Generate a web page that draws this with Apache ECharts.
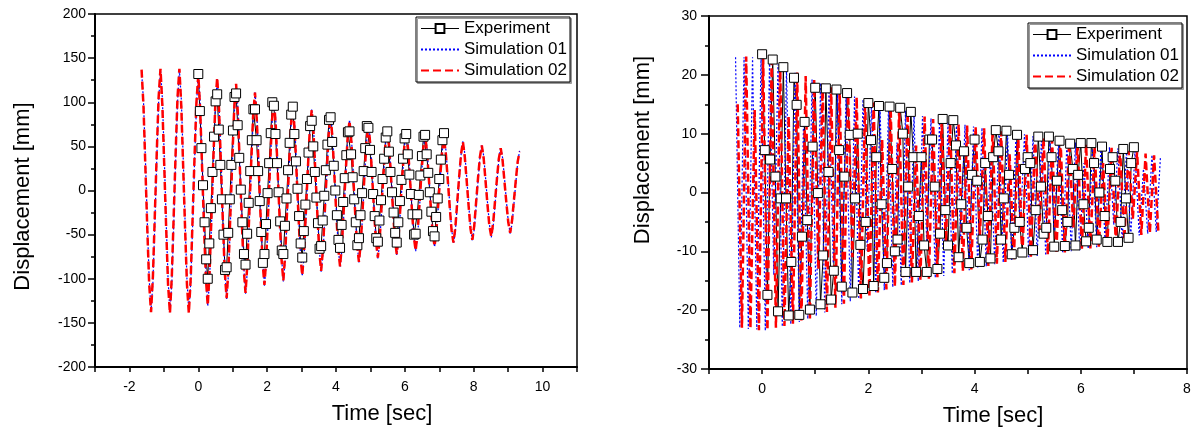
<!DOCTYPE html>
<html>
<head>
<meta charset="utf-8">
<script src="https://cdn.jsdelivr.net/npm/echarts@6/dist/echarts.min.js"></script>
<style>
  html, body { margin: 0; padding: 0; background: #fff; }
  #chart { width: 1197px; height: 428px; }
</style>
</head>
<body>
<div id="chart"></div>
<script>
var FONT = '"Liberation Sans", Arial, sans-serif';

// ---- left panel: time grids (sec) ----
var leftExpStart = 0, leftExpStep = 0.04575;
var leftSimStart = -1.647, leftSimStep = 0.0549;
// experiment displacement [mm]
var leftExp = [
  132, 90, 48, 6, -36, -78,     -100, -60, -20, 21, 61, 101,
  109, 69, 29, -10, -50, -90,   -87, -48, -10, 29, 68, 106,
  110, 74, 37, 1, -36, -72,     -84, -49, -14, 22, 57, 92,
  92, 57, 22, -12, -47, -82,    -72, -38, -3, 31, 65, 100,
  96, 64, 31, -2, -35, -68,     -72, -40, -9, 23, 54, 86,
  95, 64, 33, 2, -29, -60,      -76, -46, -16, 13, 43, 73,
  79, 50, 21, -8, -37, -66,     -63, -34, -6, 23, 52, 80,
  83, 55, 28, 0, -28, -56,      -65, -39, -13, 14, 40, 66,
  67, 41, 15, -10, -36, -62,    -54, -28, -3, 22, 48, 73,
  71, 46, 21, -4, -29, -54,     -58, -34, -11, 13, 36, 60,
  67, 44, 21, -2, -25, -48,     -59, -36, -12, 12, 36, 59,
  64, 41, 18, -4, -27, -50,     -49, -27, -5, 17, 39, 61,
  63, 41, 20, -2, -24, -46,     -52, -30, -9, 13, 35, 57,
  65
];
var leftSim01 = [
  135, 102, 37, -34, -99,      -137, -104, -38, 33, 99,
  137, 104, 38, -34, -100,     -138, -105, -39, 33, 99,
  137, 104, 38, -34, -100,     -138, -105, -40, 30, 95,
  133, 101, 38, -31, -94,      -131, -100, -38, 29, 91,
  127, 97, 37, -28, -88,       -123, -94, -36, 28, 86,
  120, 92, 35, -27, -84,       -117, -90, -35, 25, 80,
  112, 86, 33, -24, -77,       -108, -82, -31, 24, 75,
  105, 80, 30, -24, -74,       -103, -79, -31, 22, 70,
  98, 75, 28, -23, -70,        -97, -74, -29, 20, 66,
  92, 70, 26, -22, -66,        -92, -71, -28, 18, 61,
  86, 65, 24, -21, -63,        -87, -67, -27, 17, 57,
  80, 61, 22, -20, -59,        -82, -63, -25, 16, 54,
  76, 58, 21, -19, -56,        -77, -59, -23, 15, 51,
  72, 55, 20, -18, -53,        -73, -56, -22, 14, 48,
  68, 52, 19, -17, -50,        -69, -53, -21, 13, 45,
  64, 49, 18, -15, -46,        -64, -49, -19, 13, 43,
  60, 46, 17, -14, -43,        -60, -46, -18, 12, 40,
  56, 42, 15, -14, -41,        -57, -44, -18, 11, 37,
  52, 39, 14, -13, -38,        -53, -41, -16, 10, 35,
  49, 37, 14, -12, -35,        -49, -38, -15, 9, 32,
  45
];
var leftSim02 = [
  137, 96, 27, -42, -105,      -138, -97, -28, 41, 105,
  138, 96, 27, -42, -106,      -139, -97, -28, 41, 105,
  138, 96, 27, -42, -106,      -139, -99, -31, 37, 99,
  131, 92, 27, -39, -99,       -130, -91, -27, 38, 97,
  128, 91, 28, -35, -92,       -122, -86, -25, 36, 92,
  121, 85, 26, -33, -88,       -116, -82, -25, 32, 84,
  111, 78, 24, -31, -81,       -107, -75, -23, 30, 79,
  104, 73, 22, -30, -77,       -102, -72, -22, 27, 73,
  97, 68, 20, -28, -73,        -96, -68, -21, 26, 69,
  91, 64, 18, -27, -69,        -91, -65, -21, 23, 64,
  85, 59, 17, -26, -65,        -86, -61, -20, 21, 59,
  79, 55, 15, -25, -62,        -81, -58, -19, 20, 56,
  75, 52, 15, -23, -58,        -76, -54, -17, 20, 53,
  71, 50, 14, -22, -55,        -72, -51, -16, 18, 50,
  67, 47, 13, -21, -52,        -68, -48, -16, 17, 47,
  63, 44, 13, -19, -48,        -63, -45, -14, 16, 44,
  59, 41, 12, -18, -45,        -59, -42, -13, 15, 41,
  55, 38, 11, -17, -43,        -56, -40, -13, 14, 38,
  51, 36, 10, -16, -40,        -52, -37, -12, 13, 36,
  48, 34, 10, -14, -36,        -48, -34, -11, 12, 33,
  44
];
var leftXLabels = [-2, 0, 2, 4, 6, 8, 10];

// ---- right panel ----
var rightExpStart = 0, rightExpStep = 0.05;
var rightSim01Start = -0.5, rightSim02Start = -0.46, rightSimStep = 0.08;
var rightExp = [
  23.5, 7.2, -17.4, 5.6,   22.6, 2.7, -20.2, -1,    21.3, -1, -20.9, -11.8,
  19.5, 14.9, -20.8, -7.5, 12, -4.7, -19.9, 7.8,    17.8, -0.1, -19, -10.7,
  17.7, 3.5, -18.2, -13.3, 17.5, 7.2, -16, 2.7,     16.9, 9.8, -17, -1,
  10, -8.9, -16.4, -5,     15.2, 8.9, -15.9, 6,     14.7, -2, -14.5, -12,
  14.6, 4, -10, -8,        14.4, 10, -13.5, 1,      13.7, 6, -13.5, -4,
  6, -9, -13.5, 9,         9, 1, -13, -7,           12.5, -3, -9, 5,
  12.3, 8, -11, -2,        7, -6, -12, 3,           9, 2, -11.8, -8,
  5, -4, -11.2, 6,         10.6, 7, -8, -1,         10.5, 3, -10.5, -6,
  9.8, -5, -10.2, 4,       6, 5, -9.8, -3,          9.5, 1, -7, -6,
  9.5, 6, -9.2, 2,         8.8, -3, -9.1, -5,       8.3, 4, -9, 3,
  8.4, -2, -8.3, -6,       8.4, 5, -8, 0,           7.8, -4, -8.4, 4,
  6, 2, -8.4, -5,          7.4, -1, -7.7, 5,
  7.7
];
var rightSim01 = [
  23, -23, 23, -23.2, 23, -23.3, 23, -23.5, 22.6, -14,
  21.8, -22.8, 21.2, -22.4, 20.5, -22, 12, -21.5, 19.2, -21,
  18.6, -20.4, 18, -12, 17.3, -19, 16.8, -18.5, 16.3, -18.1,
  15.8, -10, 15.4, -17.1, 15, -16.6, 14.7, -16.1, 8.5, -15.8,
  13.9, -15.4, 13.4, -15.1, 13, -8.5, 12.6, -14.5, 12.3, -14.2,
  12, -13.8, 11.7, -8, 11.5, -13.2, 11.2, -12.9, 11, -12.6,
  6.5, -12.2, 10.5, -11.9, 10.4, -11.6, 10.1, -6.5, 9.9, -11,
  9.6, -10.8, 9.4, -10.7, 9.1, -6.5, 8.9, -10.3, 8.7, -10,
  8.5, -9.8, 5, -9.6, 8.1, -9.3, 7.9, -9.1, 7.7, -5.5,
  7.5, -8.3, 7.2, -7.8, 7, -7.3, 4, -7, 6.4, -6.7,
  6
];
var rightSim02 = [
  15, -23, 23.1, -23.1, 14, -23.4, 22.9, -23.4, 22.4, -23,
  21.7, -22.7, 13, -22.3, 20.4, -21.9, 19.8, -21.4, 19.1, -13,
  18.5, -20.3, 17.9, -19.6, 17.2, -18.9, 16.7, -11, 16.2, -18,
  15.7, -17.5, 15.3, -17, 9, -16.5, 14.6, -16, 14.3, -15.7,
  13.8, -15.3, 8, -15, 12.9, -14.7, 12.5, -14.4, 12.2, -8.5,
  11.9, -13.7, 11.6, -13.4, 11.4, -13.1, 11.1, -7.5, 10.9, -12.5,
  10.7, -12.1, 10.4, -11.8, 6.5, -11.5, 10, -11.2, 9.8, -10.9,
  9.5, -6.5, 9.3, -10.6, 9, -10.4, 8.8, -10.2, 8.6, -6,
  8.4, -9.7, 8.2, -9.5, 8, -9.2, 5, -9, 7.6, -8.6,
  7.4, -8.1, 7.1, -4.5, 6.9, -7.2, 6.6, -6.9, 6.3, -6.6
];
var rightXLabels = [0, 2, 4, 6, 8];

var seriesNames = ['Experiment', 'Simulation 01', 'Simulation 02'];

function pairs(start, step, vals) {
  return vals.map(function (v, i) { return [+(start + i * step).toFixed(4), v]; });
}

function expSeries(idx, data) {
  return {
    name: seriesNames[0], type: 'line', xAxisIndex: idx, yAxisIndex: idx,
    data: data, symbol: 'rect', symbolSize: 9, color: '#000',
    lineStyle: { color: '#000', width: 1 },
    itemStyle: { color: '#fff', borderColor: '#000', borderWidth: 1 },
    emphasis: { disabled: true }
  };
}
function simSeries(idx, name, data, color, width, dash) {
  return {
    name: name, type: 'line', xAxisIndex: idx, yAxisIndex: idx,
    data: data, symbol: 'none', color: color,
    lineStyle: { color: color, width: width, type: dash },
    emphasis: { disabled: true }
  };
}

function xAxis(idx, min, max, labels, namePad) {
  return {
    gridIndex: idx, type: 'value', min: min, max: max, interval: 1,
    name: 'Time [sec]', nameLocation: 'middle', nameGap: 36,
    nameTextStyle: { fontFamily: FONT, fontSize: 22, color: '#000', padding: [0, 0, 0, namePad] },
    axisLine: { onZero: false, lineStyle: { color: '#000', width: 2 } },
    axisTick: { length: 5, lineStyle: { color: '#000', width: 1.5 } },
    axisLabel: {
      margin: 13, fontFamily: FONT, fontSize: 14, color: '#000',
      formatter: function (v) { return labels.indexOf(v) >= 0 ? String(v) : ''; }
    },
    splitLine: { show: false }
  };
}
function yAxis(idx, min, max, step, gap, pad, margin, tick) {
  return {
    gridIndex: idx, type: 'value', min: min, max: max, interval: step,
    name: 'Displacement [mm]', nameLocation: 'middle', nameGap: gap,
    nameTextStyle: { fontFamily: FONT, fontSize: 22, color: '#000', padding: pad },
    axisLine: { onZero: false, lineStyle: { color: '#000', width: 2 } },
    axisTick: { length: tick, lineStyle: { color: '#000', width: 1.5 } },
    minorTick: { show: true, splitNumber: 2, length: 4, lineStyle: { color: '#000', width: 1.5 } },
    axisLabel: { margin: margin, fontFamily: FONT, fontSize: 14, color: '#000' },
    splitLine: { show: false },
    minorSplitLine: { show: false }
  };
}
function legend(left, top) {
  return {
    left: left, top: top, orient: 'vertical',
    data: [
      { name: seriesNames[0], lineStyle: { width: 1 } },
      { name: seriesNames[1], itemStyle: { opacity: 0 } },
      { name: seriesNames[2], itemStyle: { opacity: 0 } }
    ],
    itemWidth: 38, itemHeight: 11, itemGap: 4, padding: [3, 3, 3, 4],
    borderColor: '#000', borderWidth: 1, borderRadius: 0, backgroundColor: '#fff',
    shadowColor: '#999', shadowOffsetX: 1.5, shadowOffsetY: 1.5,
    selectedMode: false,
    textStyle: { fontFamily: FONT, fontSize: 17, lineHeight: 17, color: '#000' }
  };
}

var chart = echarts.init(document.getElementById('chart'), null, { renderer: 'canvas' });

var option = {
  animation: false,
  backgroundColor: '#fff',
  grid: [
    { left: 95, top: 14, width: 482, height: 353, show: true, borderColor: '#000', borderWidth: 1.5, outerBoundsMode: 'none' },
    { left: 709, top: 16, width: 478, height: 353, show: true, borderColor: '#000', borderWidth: 1.5, outerBoundsMode: 'none' }
  ],
  legend: [legend(416, 17), legend(1028, 23)],
  xAxis: [
    xAxis(0, -3, 11, leftXLabels, 92),
    xAxis(1, -1, 8, rightXLabels, 90)
  ],
  yAxis: [
    yAxis(0, -200, 200, 50, 61, [0, 12, 0, 0], 9, 7),
    yAxis(1, -30, 30, 10, 55, [0, 0, 0, 85], 12, 8)
  ],
  series: [
    expSeries(0, pairs(leftExpStart, leftExpStep, leftExp)),
    simSeries(0, seriesNames[1], pairs(leftSimStart, leftSimStep, leftSim01), '#0000ff', 1.2, [2, 2]),
    simSeries(0, seriesNames[2], pairs(leftSimStart, leftSimStep, leftSim02), '#ff0000', 2.5, [8, 4]),
    expSeries(1, pairs(rightExpStart, rightExpStep, rightExp)),
    simSeries(1, seriesNames[1], pairs(rightSim01Start, rightSimStep, rightSim01), '#0000ff', 1.2, [2, 2]),
    simSeries(1, seriesNames[2], pairs(rightSim02Start, rightSimStep, rightSim02), '#ff0000', 2.5, [8, 4])
  ]
};

chart.setOption(option);
</script>
</body>
</html>
